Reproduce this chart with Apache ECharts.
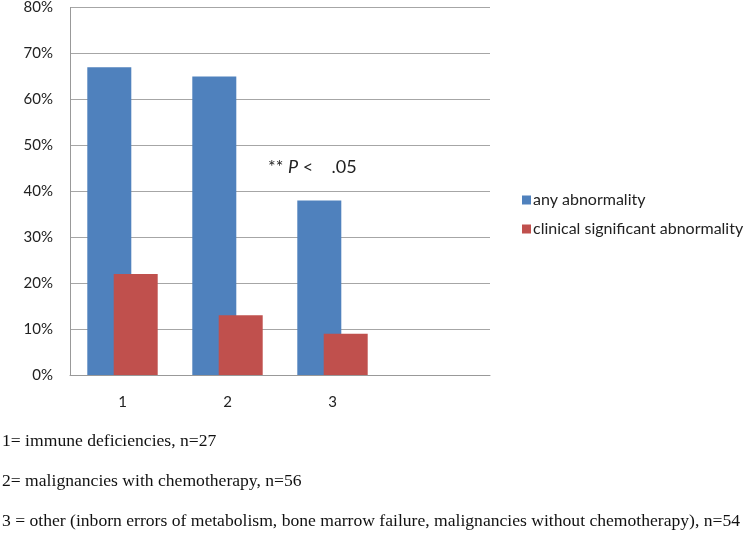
<!DOCTYPE html>
<html>
<head>
<meta charset="utf-8">
<script src="https://cdn.jsdelivr.net/npm/echarts@6/dist/echarts.min.js"></script>
<style>
  html, body { margin: 0; padding: 0; background: #fff; }
  #chart { width: 751px; height: 535px; }
</style>
</head>
<body>
<div id="chart"></div>
<script>
// groups on the x axis (4th slot is empty in the original)
const categories = ['1', '2', '3', '']
const anyAbnormality = [67, 65, 38, null]
const clinicalAbnormality = [22, 13, 9, null]
const seriesNames = ['any abnormality', 'clinical significant abnormality']
const footnotes = [
  '1= immune deficiencies, n=27',
  '2= malignancies with chemotherapy, n=56',
  '3 = other (inborn errors of metabolism, bone marrow failure, malignancies without chemotherapy), n=54'
]

const sansFont = 'Lato, "Open Sans", sans-serif'
const serifFont = '"Liberation Serif", "DejaVu Serif", serif'

const chart = echarts.init(document.getElementById('chart'))

chart.setOption({
  backgroundColor: '#fff',
  animation: false,
  grid: { left: 70, top: 6, right: 261, bottom: 160 },
  legend: {
    orient: 'vertical',
    left: 517,
    top: 187,
    itemWidth: 9,
    itemHeight: 9,
    itemGap: 13,
    icon: 'rect',
    data: seriesNames,
    textStyle: { fontFamily: sansFont, fontSize: 16, color: '#222', padding: [0, 0, 0, -3] }
  },
  xAxis: {
    type: 'category',
    data: categories,
    axisLine: { lineStyle: { color: '#999', width: 1 } },
    axisTick: { show: false },
    axisLabel: { fontFamily: sansFont, fontSize: 15, color: '#222', margin: 20 }
  },
  yAxis: {
    type: 'value',
    min: 0,
    max: 80,
    interval: 10,
    axisLine: { show: true, lineStyle: { color: '#999', width: 1 } },
    axisTick: { show: false },
    splitLine: { lineStyle: { color: '#a6a6a6', width: 1 } },
    axisLabel: {
      fontFamily: sansFont,
      fontSize: 15,
      color: '#222',
      margin: 17,
      formatter: (v) => v + '%'
    }
  },
  series: [
    {
      name: seriesNames[0],
      type: 'bar',
      data: anyAbnormality,
      barWidth: 44,
      barGap: '-40%',
      itemStyle: { color: '#4F81BD' }
    },
    {
      name: seriesNames[1],
      type: 'bar',
      data: clinicalAbnormality,
      barWidth: 44,
      itemStyle: { color: '#C0504D' }
    }
  ],
  graphic: [
    {
      type: 'text',
      left: 268,
      top: 158,
      style: {
        text: '{a|** }{p|P}{a| <    .05}',
        rich: {
          a: { fontFamily: sansFont, fontSize: 18, fill: '#222' },
          p: { fontFamily: sansFont, fontSize: 18, fontStyle: 'italic', fill: '#222' }
        }
      }
    },
    ...footnotes.map((t, i) => ({
      type: 'text',
      x: 2,
      y: 441 + i * 40,
      style: { text: t, fontFamily: serifFont, fontSize: 17.6, fill: '#111', verticalAlign: 'middle' }
    }))
  ]
})
</script>
</body>
</html>
